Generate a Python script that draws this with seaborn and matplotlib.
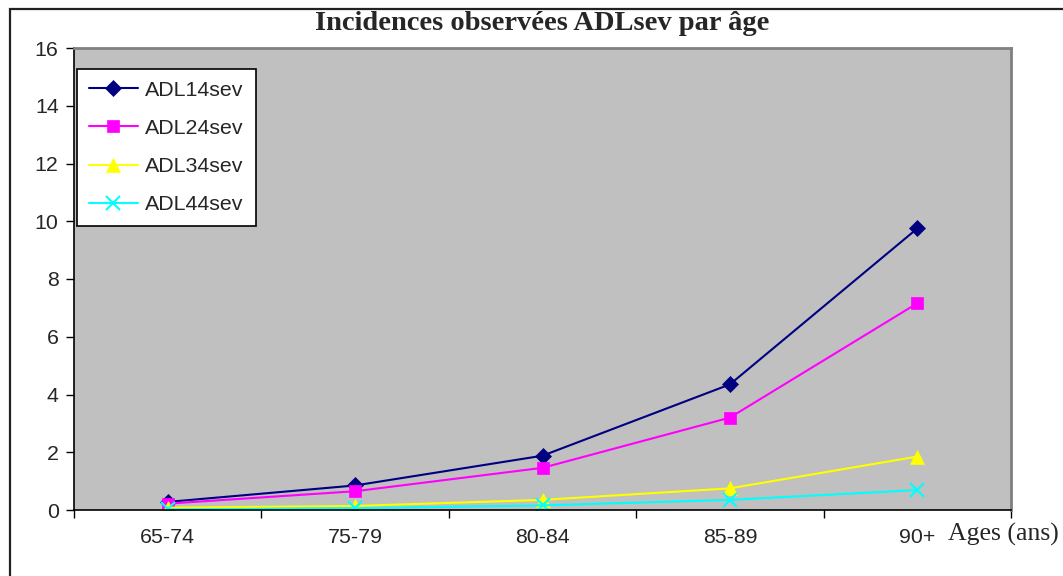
import matplotlib
matplotlib.use("Agg")
import matplotlib.pyplot as plt
from matplotlib.patches import Rectangle
from matplotlib.ticker import FixedLocator, NullFormatter
import seaborn as sns
import pandas as pd

# Age groups and observed incidences per series
ages = ["65-74", "75-79", "80-84", "85-89", "90+"]
adl14sev = [0.28, 0.85, 1.88, 4.35, 9.75]
adl24sev = [0.22, 0.65, 1.46, 3.20, 7.16]
adl34sev = [0.08, 0.14, 0.35, 0.75, 1.85]
adl44sev = [0.02, 0.06, 0.16, 0.35, 0.69]
series_names = ["ADL14sev", "ADL24sev", "ADL34sev", "ADL44sev"]
y_ticks = [0, 2, 4, 6, 8, 10, 12, 14, 16]

df = pd.DataFrame({
    "age": ages * 4,
    "value": adl14sev + adl24sev + adl34sev + adl44sev,
    "series": [n for n in series_names for _ in ages],
})

sns.set_theme(style="white")
plt.rcParams["font.family"] = ["Liberation Sans", "DejaVu Sans"]
serif = ["Liberation Serif", "DejaVu Serif"]

fig = plt.figure(figsize=(10.63, 5.76), dpi=100)
ax = fig.add_axes([74 / 1063, 1 - 510 / 576, 937 / 1063, 462 / 576])
ax.set_facecolor("#C0C0C0")

colors = {"ADL14sev": "#000080", "ADL24sev": "#FF00FF",
          "ADL34sev": "#FFFF00", "ADL44sev": "#00FFFF"}
markers = {"ADL14sev": "D", "ADL24sev": "s", "ADL34sev": "^", "ADL44sev": "x"}
msizes = {"ADL14sev": 8.5, "ADL24sev": 8.5, "ADL34sev": 10, "ADL44sev": 10}

for name in series_names:
    sub = df[df["series"] == name]
    sns.lineplot(data=sub, x="age", y="value", ax=ax, color=colors[name],
                 marker=markers[name], markersize=msizes[name],
                 markeredgecolor=colors[name], markerfacecolor=colors[name],
                 markeredgewidth=1.5 if markers[name] == "x" else 0.5,
                 linewidth=1.5, label=name, sort=False)

ax.set_xlim(-0.5, 4.5)
ax.set_ylim(0, 16)
ax.set_yticks(y_ticks)
ax.set_yticklabels([str(t) for t in y_ticks], fontsize=15.4)
ax.set_ylabel("")

# category labels centred, tick marks on the boundaries
ax.set_xticks(range(len(ages)))
ax.set_xticklabels(ages, fontsize=15.4)
ax.tick_params(axis="x", which="major", length=0, pad=13)
ax.xaxis.set_minor_locator(FixedLocator([i - 0.5 for i in range(len(ages) + 1)]))
ax.xaxis.set_minor_formatter(NullFormatter())
ax.tick_params(axis="x", which="minor", bottom=True, length=6, width=1, color="black", direction="out")
ax.tick_params(axis="y", left=True, length=6, width=1, color="black", direction="out", pad=5)

ax.set_xlabel("Ages (ans)", fontsize=18.5, family=serif)
ax.xaxis.set_label_coords(0.992, -0.028)
ax.xaxis.label.set_verticalalignment("top")

for side in ["left", "bottom"]:
    ax.spines[side].set_color("black")
    ax.spines[side].set_linewidth(1.2)
for side in ["top", "right"]:
    ax.spines[side].set_color("#808080")
    ax.spines[side].set_linewidth(2)

ax.set_title("Incidences observées ADLsev par âge", fontsize=20.5, fontweight="bold",
             family=serif, pad=13)

leg = ax.legend(loc="upper left", bbox_to_anchor=(0.003, 0.955), borderaxespad=0,
                fontsize=15.4, frameon=True, fancybox=False, framealpha=1,
                edgecolor="black", facecolor="white", handlelength=2.3,
                handletextpad=0.35, labelspacing=0.9, borderpad=0.55)
leg.get_frame().set_linewidth(1.2)

# outer chart frame
fig.patches.append(Rectangle((10 / 1063, -0.2), 1.5, 0.2 + 1 - 9 / 576,
                             transform=fig.transFigure, fill=False,
                             edgecolor="#222222", linewidth=1.6, clip_on=False))

fig.savefig("out.png", dpi=100)
